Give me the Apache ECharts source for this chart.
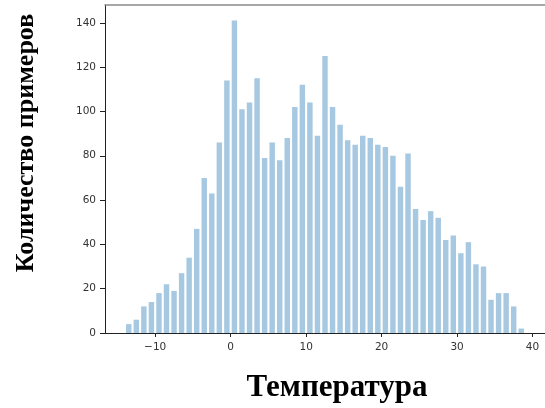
<!DOCTYPE html>
<html>
<head>
<meta charset="utf-8">
<script src="https://cdn.jsdelivr.net/npm/echarts@6/dist/echarts.min.js"></script>
<style>
html,body{margin:0;padding:0;background:#fff;}
#chart{width:545px;height:408px;}
</style>
</head>
<body>
<div id="chart"></div>
<script>
// Histogram bin left edges (°C), each bin is [edge, edge+1]
var binLeft = [-14,-13,-12,-11,-10,-9,-8,-7,-6,-5,-4,-3,-2,-1,0,1,2,3,4,5,6,7,8,9,10,11,12,13,14,15,16,17,18,19,20,21,22,23,24,25,26,27,28,29,30,31,32,33,34,35,36,37,38];
var binRight = [-13,-12,-11,-10,-9,-8,-7,-6,-5,-4,-3,-2,-1,0,1,2,3,4,5,6,7,8,9,10,11,12,13,14,15,16,17,18,19,20,21,22,23,24,25,26,27,28,29,30,31,32,33,34,35,36,37,38,39];
var counts = [4,6,12,14,18,22,19,27,34,47,70,63,86,114,141,101,104,115,79,86,78,88,102,112,104,89,125,102,94,87,85,89,88,85,84,80,66,81,56,51,55,52,42,44,36,41,31,30,15,18,18,12,2];
var xTicks = [-10,0,10,20,30,40];
var yTicks = [0,20,40,60,80,100,120,140];
var xTitle = 'Температура';
var yTitle = 'Количество примеров';

var RWIDTH = 0.72;
var data = binLeft.map(function(l, i){ return [l, binRight[i], counts[i]]; });

var chart = echarts.init(document.getElementById('chart'), null, {renderer:'canvas'});
var labelFont = 'DejaVu Sans';
chart.setOption({
  animation: false,
  backgroundColor: '#fff',
  grid: {left: 105, top: 5, right: -3, bottom: 75, show: false},
  xAxis: [{
    type: 'value', min: -16.65, max: 41.65, splitNumber: 6,
    splitLine: {show: false},
    axisLine: {show: true, onZero: false, lineStyle: {color: '#222', width: 1}},
    axisTick: {show: true, inside: false, length: 4, lineStyle: {color: '#222'}, customValues: xTicks},
    axisLabel: {color: '#333', fontSize: 10.5, fontFamily: labelFont, margin: 9,
      customValues: xTicks,
      formatter: function(v){ return String(v).replace('-', '\u2212'); }}
  }, {
    type: 'value', position: 'top', min: -16.65, max: 41.65,
    splitLine: {show: false},
    axisLine: {show: true, onZero: false, lineStyle: {color: '#8a8a8a', width: 1.5}},
    axisTick: {show: false}, axisLabel: {show: false}
  }],
  yAxis: {
    type: 'value', min: 0, max: 148.05, splitNumber: 7,
    splitLine: {show: false},
    axisLine: {show: true, onZero: false, lineStyle: {color: '#222', width: 1}},
    axisTick: {show: true, inside: false, length: 5, lineStyle: {color: '#222'}, customValues: yTicks},
    axisLabel: {color: '#333', fontSize: 10.5, fontFamily: labelFont, margin: 9,
      customValues: yTicks}
  },
  series: [{
    type: 'custom',
    xAxisIndex: 0,
    data: data,
    encode: {x: [0, 1], y: 2},
    renderItem: function(params, api){
      var l = api.value(0), r = api.value(1), h = api.value(2);
      var pad = (1 - RWIDTH) / 2 * (r - l);
      var p0 = api.coord([l + pad, h]);
      var p1 = api.coord([r - pad, 0]);
      return {
        type: 'rect',
        shape: {x: p0[0], y: p0[1], width: p1[0] - p0[0], height: p1[1] - p0[1]},
        style: {fill: '#a6c8e1'}
      };
    }
  }],
  graphic: [
    {type: 'text', x: 337, y: 388, style: {text: xTitle, font: 'bold 31px "Liberation Serif"', fill: '#000', textAlign: 'center', textVerticalAlign: 'middle'}},
    {type: 'text', rotation: Math.PI/2, x: 26, y: 143, style: {text: yTitle, font: 'bold 26px "Liberation Serif"', fill: '#000', textAlign: 'center', textVerticalAlign: 'middle'}}
  ]
});
</script>
</body>
</html>
